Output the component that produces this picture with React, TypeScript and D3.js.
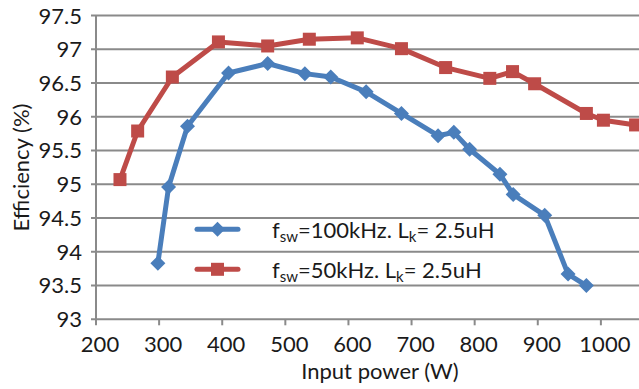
import React, { useRef, useEffect } from "react";
import * as d3 from "d3";

// 100 kHz series
const powerFsw100 = [298, 315, 345, 410, 472, 531, 572, 628, 684, 742, 767, 792, 840, 861, 911, 948, 977];
const effFsw100 = [93.83, 94.96, 95.86, 96.65, 96.79, 96.64, 96.59, 96.37, 96.05, 95.72, 95.77, 95.52, 95.15, 94.85, 94.54, 93.67, 93.5];

// 50 kHz series
const powerFsw50 = [238, 266, 321, 394, 472, 538, 614, 684, 754, 824, 860, 895, 977, 1004, 1055];
const effFsw50 = [95.07, 95.79, 96.59, 97.11, 97.05, 97.15, 97.17, 97.01, 96.73, 96.57, 96.67, 96.49, 96.05, 95.95, 95.88];

const xTicks = [200, 300, 400, 500, 600, 700, 800, 900, 1000];
const yTicks = [93, 93.5, 94, 94.5, 95, 95.5, 96, 96.5, 97, 97.5];

const BLUE = "#4a7ebb";
const RED = "#be4b48";
const GRID = "#8a8a8a";
const FONT = "Lato, 'Open Sans', sans-serif";

const App = () => {
  const svgRef = useRef<SVGSVGElement>(null);

  useEffect(() => {
    const width = 639;
    const height = 389;
    const svg = d3.select(svgRef.current).attr("width", width).attr("height", height);
    svg.selectAll("*").remove();

    const x = d3.scaleLinear().domain([200, 1100]).range([96, 664]);
    const y = d3.scaleLinear().domain([93, 97.5]).range([319.3, 15.6]);

    // gridlines
    svg
      .append("g")
      .selectAll("line")
      .data(yTicks)
      .enter()
      .append("line")
      .attr("x1", 91)
      .attr("x2", width)
      .attr("y1", (d) => y(d))
      .attr("y2", (d) => y(d))
      .attr("stroke", GRID)
      .attr("stroke-width", 2);

    // y axis line
    svg
      .append("line")
      .attr("x1", x(200))
      .attr("x2", x(200))
      .attr("y1", y(97.5))
      .attr("y2", y(93))
      .attr("stroke", GRID)
      .attr("stroke-width", 2);

    // x ticks
    svg
      .append("g")
      .selectAll("line")
      .data(xTicks)
      .enter()
      .append("line")
      .attr("x1", (d) => x(d))
      .attr("x2", (d) => x(d))
      .attr("y1", y(93))
      .attr("y2", y(93) + 6)
      .attr("stroke", GRID)
      .attr("stroke-width", 2);

    svg
      .append("g")
      .selectAll("text")
      .data(xTicks)
      .enter()
      .append("text")
      .attr("x", (d) => x(d) + 4)
      .attr("y", 352)
      .attr("text-anchor", "middle")
      .style("font-family", FONT)
      .style("font-size", "22px")
      .attr("fill", "#1a1a1a")
      .text((d) => d);

    svg
      .append("g")
      .selectAll("text")
      .data(yTicks)
      .enter()
      .append("text")
      .attr("x", 82)
      .attr("y", (d) => y(d))
      .attr("dy", "0.36em")
      .attr("text-anchor", "end")
      .style("font-family", FONT)
      .style("font-size", "22px")
      .attr("fill", "#1a1a1a")
      .text((d) => d);

    // axis titles
    svg
      .append("text")
      .attr("x", 380)
      .attr("y", 379)
      .attr("text-anchor", "middle")
      .style("font-family", FONT)
      .style("font-size", "22px")
      .attr("fill", "#1a1a1a")
      .text("Input power (W)");

    svg
      .append("text")
      .attr("transform", "translate(29, 167.5) rotate(-90)")
      .attr("text-anchor", "middle")
      .style("font-family", FONT)
      .style("font-size", "22px")
      .attr("fill", "#1a1a1a")
      .text("Efficiency (%)");

    const line = d3
      .line<[number, number]>()
      .x((d) => x(d[0]))
      .y((d) => y(d[1]));

    const blue = powerFsw100.map((p, i) => [p, effFsw100[i]] as [number, number]);
    const red = powerFsw50.map((p, i) => [p, effFsw50[i]] as [number, number]);

    const diamond = "M0,-7.5L7.5,0L0,7.5L-7.5,0Z";

    svg
      .append("path")
      .datum(blue)
      .attr("d", line)
      .attr("fill", "none")
      .attr("stroke", BLUE)
      .attr("stroke-width", 5)
      .attr("stroke-linejoin", "round");
    svg
      .append("g")
      .selectAll("path")
      .data(blue)
      .enter()
      .append("path")
      .attr("d", diamond)
      .attr("transform", (d) => `translate(${x(d[0])},${y(d[1])})`)
      .attr("fill", BLUE);

    svg
      .append("path")
      .datum(red)
      .attr("d", line)
      .attr("fill", "none")
      .attr("stroke", RED)
      .attr("stroke-width", 5)
      .attr("stroke-linejoin", "round");
    svg
      .append("g")
      .selectAll("rect")
      .data(red)
      .enter()
      .append("rect")
      .attr("x", (d) => x(d[0]) - 6.5)
      .attr("y", (d) => y(d[1]) - 6.5)
      .attr("width", 13)
      .attr("height", 13)
      .attr("fill", RED);

    // legend
    const legend = [
      { color: BLUE, freq: "=100kHz. L", y: 229.3, marker: "diamond" },
      { color: RED, freq: "=50kHz. L", y: 269.3, marker: "square" },
    ];
    legend.forEach((item) => {
      svg
        .append("line")
        .attr("x1", 197)
        .attr("x2", 238)
        .attr("y1", item.y)
        .attr("y2", item.y)
        .attr("stroke", item.color)
        .attr("stroke-width", 5)
        .attr("stroke-linecap", "round");
      if (item.marker === "diamond") {
        svg
          .append("path")
          .attr("d", diamond)
          .attr("transform", `translate(217.5,${item.y})`)
          .attr("fill", item.color);
      } else {
        svg
          .append("rect")
          .attr("x", 211)
          .attr("y", item.y - 6.5)
          .attr("width", 13)
          .attr("height", 13)
          .attr("fill", item.color);
      }
      const t = svg
        .append("text")
        .attr("x", 272)
        .attr("y", item.y + 8.5)
        .style("font-family", FONT)
        .style("font-size", "22px")
        .attr("fill", "#1a1a1a");
      t.append("tspan").text("f");
      t.append("tspan").attr("dy", 4).style("font-size", "15px").text("sw");
      t.append("tspan").attr("dy", -4).text(item.freq);
      t.append("tspan").attr("dy", 4).style("font-size", "15px").text("k");
      t.append("tspan").attr("dy", -4).text("= 2.5uH");
    });
  }, []);

  return (
    <div>
      <svg ref={svgRef} style={{ position: "absolute", left: 0, top: 0, display: "block" }}></svg>
    </div>
  );
};

export default App;
